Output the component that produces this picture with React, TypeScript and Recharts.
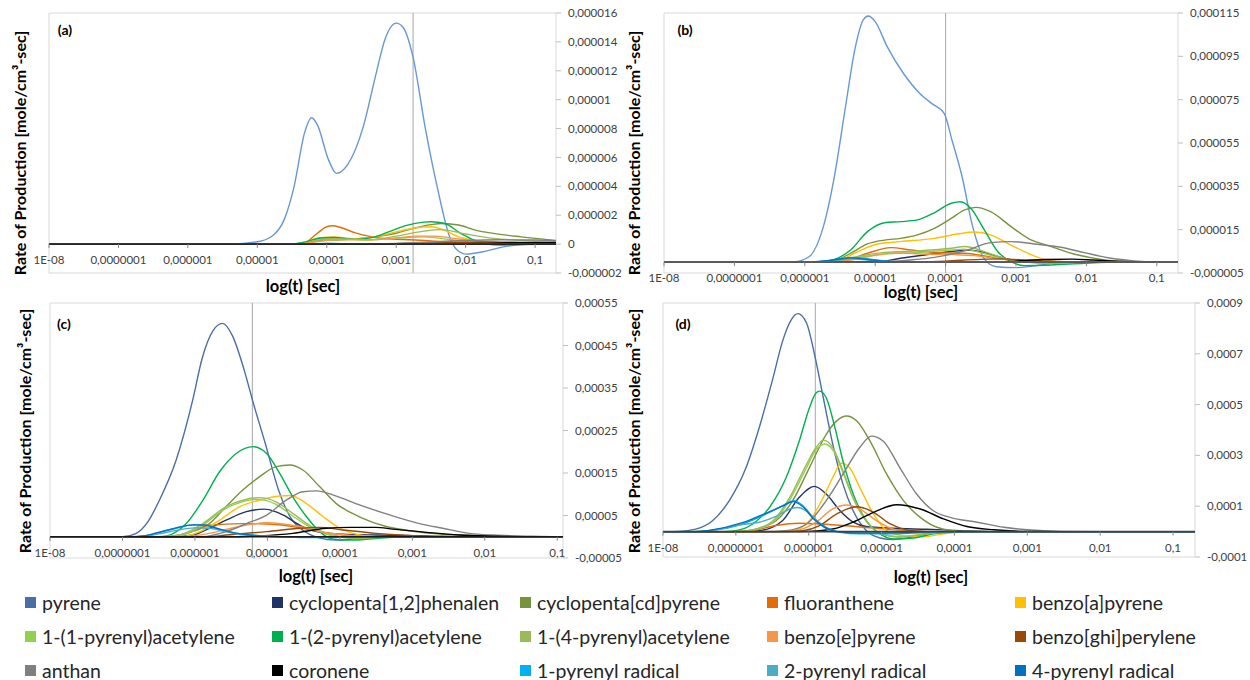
import React from 'react'
import { LineChart, Line, XAxis, YAxis, ReferenceLine, ReferenceArea } from 'recharts'

// x ticks (seconds), shared by all panels
const T_TICKS = [1e-8, 1e-7, 1e-6, 1e-5, 1e-4, 1e-3, 1e-2, 1e-1]

const NAMES = [
  'pyrene', 'cyclopenta[1,2]phenalen', 'cyclopenta[cd]pyrene', 'fluoranthene', 'benzo[a]pyrene',
  '1-(1-pyrenyl)acetylene', '1-(2-pyrenyl)acetylene', '1-(4-pyrenyl)acetylene', 'benzo[e]pyrene', 'benzo[ghi]perylene',
  'anthan', 'coronene', '1-pyrenyl radical', '2-pyrenyl radical', '4-pyrenyl radical',
]
const COLORS = [
  '#4a6ea8', '#1f3466', '#77933c', '#e36c09', '#ffc000',
  '#92d050', '#00b050', '#9bbb59', '#f79646', '#984807',
  '#808080', '#000000', '#00b0f0', '#4bacc6', '#0070c0',
]

// y ticks, in 1e-6 mole/cm3-sec
const Y_TICKS_A = [-2, 0, 2, 4, 6, 8, 10, 12, 14, 16]
const Y_TICKS_B = [-5, 15, 35, 55, 75, 95, 115]
const Y_TICKS_C = [-50, 50, 150, 250, 350, 450, 550]
const Y_TICKS_D = [-100, 100, 300, 500, 700, 900]

// points are [log10(t), rate in 1e-6 mole/cm3-sec]
// ---- panel (a)
const aPyrene = [[-8, 0], [-5.4, 0], [-5.0, 0.16], [-4.78, 0.58], [-4.61, 1.73], [-4.47, 4.0], [-4.32, 7.7], [-4.22, 8.75], [-4.13, 8.2], [-3.98, 5.9], [-3.86, 4.9], [-3.7, 5.5], [-3.47, 8.2], [-3.3, 11.6], [-3.16, 14.2], [-3.0, 15.3], [-2.9, 15.0], [-2.76, 13.0], [-2.58, 8.0], [-2.4, 3.75], [-2.23, 0.5], [-2.13, -0.37], [-1.99, -0.69], [-1.75, -0.53], [-1.46, -0.19], [-1.27, -0.07], [-1.0, 0], [-0.7, 0]]
const aCp12 = [[-8, 0], [-3.3, 0], [-2.6, 0.08], [-2.2, 0.1], [-1.7, 0.04], [-0.7, 0]]
const aCpcd = [[-8, 0], [-4.4, 0], [-4.1, 0.25], [-3.8, 0.3], [-3.4, 0.45], [-3.0, 0.75], [-2.75, 1.1], [-2.5, 1.35], [-2.35, 1.43], [-2.1, 1.32], [-1.85, 0.95], [-1.6, 0.74], [-1.2, 0.5], [-0.7, 0.25]]
const aFluor = [[-8, 0], [-4.5, 0], [-4.3, 0.15], [-4.15, 0.7], [-4.0, 1.2], [-3.92, 1.27], [-3.8, 1.15], [-3.6, 0.8], [-3.4, 0.55], [-3.2, 0.4], [-2.9, 0.32], [-2.6, 0.25], [-2.2, 0.15], [-1.5, 0.05], [-0.7, 0.02]]
const aBap = [[-8, 0], [-4.5, 0], [-4.3, 0.15], [-4.1, 0.45], [-3.9, 0.5], [-3.6, 0.38], [-3.3, 0.5], [-3.0, 0.85], [-2.75, 1.1], [-2.5, 1.2], [-2.3, 0.95], [-2.1, 0.5], [-1.88, 0.28], [-1.5, 0.1], [-1.0, 0.03], [-0.7, 0.02]]
const aP1ac = [[-8, 0], [-4.4, 0], [-4.1, 0.35], [-3.8, 0.35], [-3.4, 0.3], [-3.0, 0.4], [-2.6, 0.5], [-2.2, 0.3], [-1.8, 0.1], [-1.2, 0.03], [-0.7, 0]]
const aP2ac = [[-8, 0], [-4.5, 0], [-4.3, 0.15], [-4.1, 0.42], [-3.9, 0.46], [-3.6, 0.33], [-3.35, 0.45], [-3.1, 0.86], [-2.85, 1.3], [-2.6, 1.52], [-2.5, 1.55], [-2.3, 1.43], [-2.07, 0.74], [-1.88, 0.28], [-1.7, 0], [-1.5, -0.07], [-1.2, -0.03], [-0.7, 0]]
const aP4ac = [[-8, 0], [-4.4, 0], [-4.1, 0.3], [-3.8, 0.35], [-3.4, 0.3], [-3.0, 0.55], [-2.6, 0.9], [-2.35, 1.0], [-2.0, 0.7], [-1.6, 0.4], [-1.2, 0.25], [-0.7, 0.15]]
const aBep = [[-8, 0], [-4.4, 0], [-4.1, 0.2], [-3.8, 0.3], [-3.4, 0.3], [-3.0, 0.42], [-2.7, 0.55], [-2.45, 0.55], [-2.1, 0.35], [-1.7, 0.15], [-1.2, 0.05], [-0.7, 0.02]]
const aBghi = [[-8, 0], [-3, 0], [-2.3, 0.1], [-1.7, 0.15], [-1.2, 0.12], [-0.7, 0.08]]
const aAnthan = [[-8, 0], [-3.5, 0], [-3.0, 0.05], [-2.5, 0.15], [-2.0, 0.25], [-1.5, 0.3], [-1.0, 0.28], [-0.7, 0.22]]
const aCoronene = [[-8, 0], [-2.5, 0], [-1.8, 0.05], [-1.2, 0.1], [-0.7, 0.1]]
const aR1 = [[-8, 0], [-4.3, 0], [-3.9, 0.05], [-3.5, 0], [-0.7, 0]]
const aR2 = [[-8, 0], [-0.7, 0]]
const aR4 = [[-8, 0], [-4.3, 0], [-4.0, 0.04], [-3.6, 0], [-0.7, 0]]

// ---- panel (b)
const bPyrene = [[-8, 0], [-6.4, 0], [-6.15, 0.2], [-5.94, 2.5], [-5.75, 14.9], [-5.58, 39.5], [-5.43, 70], [-5.29, 98], [-5.17, 111.8], [-5.1, 113.6], [-5.0, 111], [-4.83, 99.5], [-4.6, 87.2], [-4.37, 78], [-4.2, 73.3], [-4.02, 68.7], [-3.91, 56.4], [-3.77, 40], [-3.62, 17], [-3.45, 1.5], [-3.28, -2.1], [-2.99, -2.5], [-2.76, -1.8], [-2.3, 0], [-0.7, 0]]
const bCp12 = [[-8, 0], [-5.0, 0], [-4.64, 1.8], [-4.3, 3.3], [-3.92, 4.9], [-3.69, 5.6], [-3.45, 4.4], [-3.17, 1.8], [-2.88, 0.2], [-0.7, 0]]
const bCpcd = [[-8, 0], [-5.8, 0], [-5.58, 0.7], [-5.35, 4.1], [-5.11, 8.4], [-4.87, 10.2], [-4.64, 11], [-4.4, 12.6], [-4.16, 15.6], [-3.92, 20.2], [-3.73, 24.1], [-3.57, 25.3], [-3.36, 23.3], [-3.07, 16.4], [-2.83, 11], [-2.5, 7.2], [-2.12, 3.3], [-1.79, 1.3], [-1.32, 0.2], [-0.7, 0]]
const bFluor = [[-8, 0], [-5.6, 0], [-5.35, 1.5], [-5.11, 4.1], [-4.78, 6.7], [-4.49, 5.6], [-4.11, 4.4], [-3.73, 4.1], [-3.45, 2.9], [-3.17, 1.3], [-2.74, 0.6], [-2.3, 0], [-0.7, 0]]
const bBap = [[-8, 0], [-5.7, 0], [-5.44, 1.8], [-5.2, 5.6], [-4.97, 8.4], [-4.64, 9.5], [-4.16, 11], [-3.83, 13], [-3.59, 13.9], [-3.36, 12.6], [-3.12, 8.7], [-2.83, 4.1], [-2.6, 1.3], [-2.27, 0.1], [-0.7, 0]]
const bP1ac = [[-8, 0], [-5.7, 0], [-5.35, 1.6], [-4.87, 3.8], [-4.4, 4.5], [-3.92, 5.6], [-3.75, 6.0], [-3.45, 4.0], [-3.17, 1.4], [-2.88, 0.1], [-2.5, -0.4], [-2.0, 0], [-0.7, 0]]
const bP2ac = [[-8, 0], [-6.0, 0], [-5.82, 0.2], [-5.58, 1.3], [-5.35, 5.6], [-5.11, 14.1], [-4.87, 18.2], [-4.64, 18.7], [-4.4, 19.5], [-4.16, 22.8], [-3.92, 27.2], [-3.79, 27.9], [-3.64, 24.8], [-3.45, 14.9], [-3.26, 4.9], [-3.07, 0.2], [-2.88, -1.6], [-2.5, -1.3], [-2.03, -0.5], [-1.55, 0], [-0.7, 0]]
const bP4ac = [[-8, 0], [-5.7, 0], [-5.35, 2.0], [-4.87, 4.5], [-4.4, 5.2], [-3.92, 6.4], [-3.73, 7.2], [-3.45, 4.9], [-3.17, 1.8], [-2.88, 0.2], [-2.5, -0.5], [-2.0, 0], [-0.7, 0]]
const bBep = [[-8, 0], [-5.6, 0], [-5.3, 1.2], [-5.0, 3.2], [-4.7, 4.3], [-4.3, 3.8], [-3.9, 3.5], [-3.6, 3.0], [-3.3, 1.8], [-2.9, 0.6], [-2.4, 0.1], [-0.7, 0]]
const bBghi = [[-8, 0], [-4.5, 0], [-4.0, 0.5], [-3.5, 1.3], [-3.2, 1.5], [-2.8, 0.8], [-2.3, 0.2], [-1.8, 0], [-0.7, 0]]
const bAnthan = [[-8, 0], [-5.0, 0], [-4.87, 0.2], [-4.5, 1.0], [-4.16, 2.2], [-3.69, 5.6], [-3.36, 9.0], [-3.07, 9.5], [-2.74, 8.4], [-2.36, 6.9], [-2.03, 4.4], [-1.65, 1.8], [-1.32, 0.6], [-0.9, 0], [-0.7, 0]]
const bCoronene = [[-8, 0], [-3.3, 0], [-3.0, 0.5], [-2.6, 1.2], [-2.2, 1.4], [-1.9, 1.0], [-1.5, 0.3], [-1.1, 0], [-0.7, 0]]
const bR1 = [[-8, 0], [-6.0, 0], [-5.6, 0.8], [-5.35, 2.2], [-5.1, 1.5], [-4.8, 0.3], [-4.4, 0], [-0.7, 0]]
const bR2 = [[-8, 0], [-6.0, 0], [-5.6, 0.6], [-5.35, 1.5], [-5.1, 1.0], [-4.8, 0.2], [-4.4, 0], [-0.7, 0]]
const bR4 = [[-8, 0], [-6.0, 0], [-5.6, 1.0], [-5.35, 2.0], [-5.1, 1.2], [-4.7, 0.2], [-4.3, 0], [-0.7, 0]]

// ---- panel (c)
const cPyrene = [[-8, 0], [-7.0, 0], [-6.81, 8], [-6.65, 35], [-6.49, 86], [-6.26, 180], [-6.03, 322], [-5.9, 420], [-5.75, 485], [-5.62, 502], [-5.48, 472], [-5.32, 392], [-5.2, 318], [-5.03, 220], [-4.85, 112], [-4.68, 45], [-4.5, 14], [-4.3, -2], [-4.05, -8], [-3.8, -5], [-3.5, 0], [-0.92, 0]]
const cCp12 = [[-8, 0], [-6.3, 0], [-6.03, 4], [-5.8, 20], [-5.57, 39], [-5.29, 59], [-5.04, 65], [-4.78, 51], [-4.55, 27], [-4.32, 12], [-3.96, 6], [-3.5, 4], [-2.81, 2], [-2.2, 0], [-0.92, 0]]
const cCpcd = [[-8, 0], [-6.4, 0], [-6.12, 8], [-5.8, 31], [-5.57, 71], [-5.34, 110], [-5.11, 141], [-4.88, 165], [-4.69, 169], [-4.51, 157], [-4.28, 118], [-4.05, 78], [-3.73, 47], [-3.36, 24], [-2.99, 13], [-2.58, 6], [-2.12, 3], [-1.66, 1], [-1.2, 0], [-0.92, 0]]
const cFluor = [[-8, 0], [-6.4, 0], [-6.12, 8], [-5.8, 27], [-5.34, 31], [-5.01, 30], [-4.65, 24], [-4.28, 12], [-3.96, 4], [-3.6, 0], [-0.92, 0]]
const cBap = [[-8, 0], [-6.2, 0], [-5.93, 12], [-5.66, 39], [-5.38, 71], [-5.11, 86], [-4.83, 96], [-4.69, 97], [-4.46, 78], [-4.23, 47], [-4.0, 20], [-3.73, 4], [-3.5, 0], [-0.92, 0]]
const cP1ac = [[-8, 0], [-6.5, 0], [-6.2, 3], [-5.9, 26], [-5.6, 64], [-5.35, 82], [-5.15, 88], [-4.9, 78], [-4.66, 50], [-4.42, 23], [-4.19, 6], [-3.96, -2], [-3.6, -3], [-3.2, 0], [-0.92, 0]]
const cP2ac = [[-8, 0], [-6.5, 0], [-6.35, 4], [-6.12, 31], [-5.89, 86], [-5.66, 153], [-5.43, 196], [-5.2, 212], [-5.01, 196], [-4.83, 149], [-4.65, 94], [-4.46, 47], [-4.28, 12], [-4.09, -6], [-3.86, -8], [-3.5, -4], [-3.04, 0], [-0.92, 0]]
const cP4ac = [[-8, 0], [-6.5, 0], [-6.21, 4], [-5.89, 31], [-5.57, 71], [-5.34, 86], [-5.11, 92], [-4.88, 82], [-4.65, 55], [-4.42, 27], [-4.19, 8], [-3.96, 0], [-3.7, -4], [-3.3, 0], [-0.92, 0]]
const cBep = [[-8, 0], [-6.2, 0], [-5.8, 8], [-5.5, 20], [-5.01, 33], [-4.55, 24], [-4.2, 10], [-3.73, 2], [-3.4, 0], [-0.92, 0]]
const cBghi = [[-8, 0], [-5.8, 0], [-5.57, 4], [-5.01, 12], [-4.55, 20], [-4.28, 22], [-3.96, 16], [-3.5, 8], [-3.04, 3], [-2.6, 0], [-0.92, 0]]
const cAnthan = [[-8, 0], [-5.9, 0], [-5.57, 12], [-5.29, 31], [-5.01, 51], [-4.74, 86], [-4.51, 106], [-4.32, 108], [-4.09, 98], [-3.73, 75], [-3.27, 49], [-2.9, 31], [-2.58, 20], [-2.21, 8], [-1.89, 4], [-1.43, 1.5], [-1.0, 0], [-0.92, 0]]
const cCoronene = [[-8, 0], [-5.4, 0], [-5.11, 2], [-4.65, 8], [-4.19, 20], [-3.86, 22], [-3.5, 22], [-3.27, 18], [-2.9, 12], [-2.35, 4], [-1.89, 1.5], [-1.4, 0], [-0.92, 0]]
const cR1 = [[-8, 0], [-6.9, 0], [-6.71, 1.6], [-6.49, 10], [-6.26, 20], [-6.03, 28], [-5.84, 27], [-5.66, 17], [-5.43, 8], [-5.2, 4], [-4.88, 1], [-4.5, -2], [-4.1, -2], [-3.8, 0], [-0.92, 0]]
const cR2 = [[-8, 0], [-6.9, 0], [-6.7, 1], [-6.49, 7], [-6.26, 15], [-6.0, 21], [-5.8, 20], [-5.6, 13], [-5.4, 6], [-5.1, 2], [-4.7, 0], [-0.92, 0]]
const cR4 = [[-8, 0], [-6.9, 0], [-6.71, 2], [-6.49, 11], [-6.26, 21], [-6.03, 28], [-5.88, 28], [-5.7, 20], [-5.45, 9], [-5.2, 3], [-4.8, 0], [-0.92, 0]]

// ---- panel (d)
const dPyrene = [[-8, 0], [-7.78, 1], [-7.55, 10], [-7.32, 43], [-7.09, 122], [-6.86, 252], [-6.68, 409], [-6.49, 605], [-6.36, 749], [-6.24, 834], [-6.15, 858], [-6.03, 821], [-5.92, 697], [-5.8, 527], [-5.67, 344], [-5.53, 187], [-5.39, 82], [-5.21, 4], [-5.02, -25], [-4.84, -31], [-4.61, -22], [-4.38, -9], [-4.15, -3], [-3.8, 0], [-0.7, 0]]
const dCp12 = [[-8, 0], [-7.0, 0], [-6.68, 4], [-6.36, 43], [-6.13, 135], [-5.92, 178], [-5.76, 148], [-5.57, 82], [-5.39, 37], [-5.21, 20], [-4.84, 13], [-4.38, 9], [-3.92, 4], [-3.4, 0], [-0.7, 0]]
const dCpcd = [[-8, 0], [-7.0, 0], [-6.77, 7], [-6.45, 43], [-6.22, 122], [-5.99, 252], [-5.76, 383], [-5.62, 435], [-5.48, 455], [-5.34, 435], [-5.16, 357], [-4.93, 226], [-4.7, 122], [-4.47, 56], [-4.24, 17], [-3.92, 1], [-3.5, 0], [-0.7, 0]]
const dFluor = [[-8, 0], [-7.0, 0], [-6.77, 4], [-6.45, 24], [-6.13, 33], [-5.85, 30], [-5.53, 24], [-5.07, 13], [-4.61, 4], [-4.2, 0], [-0.7, 0]]
const dBap = [[-8, 0], [-6.5, 0], [-6.22, 4], [-5.99, 43], [-5.8, 135], [-5.67, 213], [-5.55, 269], [-5.44, 252], [-5.3, 174], [-5.11, 69], [-4.93, 4], [-4.7, -16], [-4.43, -20], [-4.15, -9], [-3.8, 0], [-0.7, 0]]
const dP1ac = [[-8, 0], [-7.0, 0], [-6.77, 6], [-6.49, 38], [-6.26, 125], [-6.03, 252], [-5.9, 322], [-5.78, 345], [-5.66, 318], [-5.53, 232], [-5.39, 130], [-5.21, 40], [-5.02, -7], [-4.75, -20], [-4.38, -8], [-4.0, 0], [-0.7, 0]]
const dP2ac = [[-8, 0], [-7.2, 0], [-7.0, 4], [-6.77, 30], [-6.54, 95], [-6.31, 213], [-6.13, 357], [-5.99, 488], [-5.9, 546], [-5.85, 553], [-5.76, 527], [-5.64, 409], [-5.53, 278], [-5.39, 148], [-5.21, 43], [-5.02, -9], [-4.84, -29], [-4.56, -25], [-4.29, -9], [-3.92, -1], [-3.5, 0], [-0.7, 0]]
const dP4ac = [[-8, 0], [-7.0, 0], [-6.77, 7], [-6.49, 43], [-6.26, 135], [-6.03, 265], [-5.9, 331], [-5.8, 360], [-5.67, 331], [-5.53, 239], [-5.39, 135], [-5.21, 43], [-5.02, -9], [-4.75, -22], [-4.38, -9], [-4.0, 0], [-0.7, 0]]
const dBep = [[-8, 0], [-6.4, 0], [-6.13, 7], [-5.9, 37], [-5.67, 89], [-5.48, 105], [-5.3, 89], [-5.07, 43], [-4.84, 10], [-4.6, 0], [-0.7, 0]]
const dBghi = [[-8, 0], [-6.3, 0], [-6.08, 4], [-5.85, 24], [-5.62, 69], [-5.34, 98], [-5.11, 76], [-4.88, 30], [-4.66, 7], [-4.4, 0], [-0.7, 0]]
const dAnthan = [[-8, 0], [-6.6, 0], [-6.31, 4], [-6.03, 30], [-5.76, 122], [-5.53, 226], [-5.3, 331], [-5.14, 376], [-4.98, 357], [-4.75, 252], [-4.52, 148], [-4.29, 82], [-4.06, 56], [-3.69, 37], [-3.32, 17], [-3.0, 7], [-2.54, 1], [-2.0, 0], [-0.7, 0]]
const dCoronene = [[-8, 0], [-6.2, 0], [-5.99, 1], [-5.67, 10], [-5.39, 37], [-5.11, 76], [-4.79, 106], [-4.47, 89], [-4.15, 50], [-3.83, 20], [-3.46, 7], [-3.0, 1], [-2.5, 0], [-0.7, 0]]
const dR1 = [[-8, 0], [-7.6, 0], [-7.37, 4], [-6.91, 30], [-6.59, 69], [-6.36, 102], [-6.2, 122], [-6.08, 102], [-5.94, 56], [-5.76, 17], [-5.57, -3], [-5.3, -9], [-4.84, -9], [-4.38, -4], [-4.0, 0], [-0.7, 0]]
const dR2 = [[-8, 0], [-7.6, 0], [-7.37, 3], [-6.91, 28], [-6.68, 37], [-6.45, 60], [-6.25, 90], [-6.15, 95], [-6.03, 80], [-5.9, 45], [-5.76, 12], [-5.57, -2], [-5.2, -5], [-4.6, -3], [-4.2, 0], [-0.7, 0]]
const dR4 = [[-8, 0], [-7.6, 0], [-7.37, 5], [-6.91, 35], [-6.59, 72], [-6.36, 100], [-6.22, 118], [-6.08, 98], [-5.94, 52], [-5.76, 14], [-5.57, -2], [-5.3, -6], [-4.8, -5], [-4.3, 0], [-0.7, 0]]

const FONT = 'Lato, "Open Sans", sans-serif'
const Y_AXIS_W = 50
const X_AXIS_H = 20

const PANELS = [
  {
    id: '(a)', left: 0, top: 0, width: 640, height: 300,
    plot: { left: 49, right: 556, top: 13, bottom: 273 },
    xMax: 0.2, marker: 0.00175, yTicks: Y_TICKS_A, pyreneColor: '#6797d8', zeroColor: '#262626',
    series: [aPyrene, aCp12, aCpcd, aFluor, aBap, aP1ac, aP2ac, aP4ac, aBep, aBghi, aAnthan, aCoronene, aR1, aR2, aR4],
    tag: [65, 29], xTitle: [303, 286], yTitle: [19, 153],
  },
  {
    id: '(b)', left: 620, top: 0, width: 630, height: 300,
    plot: { left: 44, right: 558, top: 13, bottom: 273 },
    xMax: 0.2, marker: 0.0001, yTicks: Y_TICKS_B, pyreneColor: '#6797d8', zeroColor: '#595959',
    series: [bPyrene, bCp12, bCpcd, bFluor, bBap, bP1ac, bP2ac, bP4ac, bBep, bBghi, bAnthan, bCoronene, bR1, bR2, bR4],
    tag: [685, 29], xTitle: [921, 292], yTitle: [633, 153],
  },
  {
    id: '(c)', left: 0, top: 290, width: 640, height: 300,
    plot: { left: 50, right: 563, top: 13, bottom: 268 },
    xMax: 0.12, marker: 0.0000062, yTicks: Y_TICKS_C, pyreneColor: '#4a6ea8', zeroColor: '#1a1a1a',
    series: [cPyrene, cCp12, cCpcd, cFluor, cBap, cP1ac, cP2ac, cP4ac, cBep, cBghi, cAnthan, cCoronene, cR1, cR2, cR4],
    tag: [64, 323], xTitle: [316, 576], yTitle: [24, 431],
  },
  {
    id: '(d)', left: 620, top: 290, width: 630, height: 300,
    plot: { left: 43, right: 575, top: 13, bottom: 267 },
    xMax: 0.2, marker: 0.00000123, yTicks: Y_TICKS_D, pyreneColor: '#4a6ea8', zeroColor: '#404040',
    series: [dPyrene, dCp12, dCpcd, dFluor, dBap, dP1ac, dP2ac, dP4ac, dBep, dBghi, dAnthan, dCoronene, dR1, dR2, dR4],
    tag: [683, 323], xTitle: [931, 577], yTitle: [633, 431],
  },
]

const LEGEND_COL_X = [25, 272, 520, 767, 1015]
const LEGEND_ROW_Y = [602, 636, 670]

const toRows = (pts: number[][]) => pts.map(([lg, v]) => ({ t: Math.pow(10, lg), v }))

const fmtNum = (v: number) => {
  if (Math.abs(v) < 1e-12) return '0'
  const s = v.toFixed(10).replace(/0+$/, '').replace(/\.$/, '')
  return s.replace('.', ',')
}
const fmtT = (t: number) => (t < 1.5e-8 ? '1E-08' : fmtNum(t))

const XTick = ({ x, payload, zeroY }: any) => (
  <g>
    <line x1={x} x2={x} y1={zeroY} y2={zeroY + 4} stroke="#868686" />
    <text x={x} y={zeroY + 16} dy="0.355em" textAnchor="middle" fontSize={11.5} fill="#404040">
      {fmtT(payload.value)}
    </text>
  </g>
)

function Panel({ p }: { p: any }) {
  const yMin = p.yTicks[0]
  const yMax = p.yTicks[p.yTicks.length - 1]
  const plotH = p.plot.bottom - p.plot.top
  const zeroY = p.plot.top + (plotH * yMax) / (yMax - yMin)
  const margin = {
    left: p.plot.left,
    top: p.plot.top,
    right: p.width - p.plot.right - Y_AXIS_W,
    bottom: p.height - p.plot.bottom - X_AXIS_H,
  }
  return (
    <div style={{ position: 'absolute', left: p.left, top: p.top }}>
      <LineChart width={p.width} height={p.height} margin={margin}>
        <XAxis
          dataKey="t"
          type="number"
          scale="log"
          domain={[1e-8, p.xMax]}
          ticks={T_TICKS}
          interval={0}
          allowDataOverflow
          axisLine={false}
          tickLine={false}
          height={X_AXIS_H}
          tick={(props: any) => <XTick {...props} zeroY={zeroY} />}
        />
        <YAxis
          orientation="right"
          type="number"
          domain={[yMin, yMax]}
          ticks={p.yTicks}
          interval={0}
          width={Y_AXIS_W}
          allowDataOverflow
          axisLine={false}
          tickSize={5}
          tickMargin={7}
          tickLine={{ stroke: '#bfbfbf' }}
          tick={{ fontSize: 11.5, fill: '#404040' }}
          tickFormatter={(v: number) => fmtNum(v * 1e-6)}
        />
        <ReferenceArea x1={1e-8} x2={p.xMax} y1={yMin} y2={yMax} fill="none" stroke="#d9d9d9" ifOverflow="visible" />
        <ReferenceLine x={p.marker} stroke="#a6a6a6" />
        {p.series.map((pts: number[][], i: number) => (
          <Line
            key={NAMES[i]}
            data={toRows(pts)}
            dataKey="v"
            type="monotone"
            stroke={i === 0 ? p.pyreneColor : COLORS[i]}
            strokeWidth={1.4}
            dot={false}
            activeDot={false}
            isAnimationActive={false}
          />
        ))}
        <ReferenceLine y={0} stroke={p.zeroColor} strokeWidth={1.6} />
      </LineChart>
    </div>
  )
}

const centered = (x: number, y: number, extra: any = {}) => ({
  position: 'absolute' as const,
  left: x,
  top: y,
  transform: 'translate(-50%, -50%)',
  whiteSpace: 'nowrap' as const,
  ...extra,
})

export default function App() {
  return (
    <div style={{ position: 'absolute', left: 0, top: 0, width: 1250, height: 680, background: '#fff', fontFamily: FONT }}>
      {PANELS.map((p) => (
        <Panel key={p.id} p={p} />
      ))}
      {PANELS.map((p) => (
        <React.Fragment key={p.id + 't'}>
          <div style={centered(p.tag[0], p.tag[1], { fontSize: 14, fontWeight: 700, color: '#000' })}>{p.id}</div>
          <div style={centered(p.xTitle[0], p.xTitle[1], { fontSize: 16.5, fontWeight: 700, color: '#000' })}>log(t) [sec]</div>
          <div
            style={centered(p.yTitle[0], p.yTitle[1], {
              fontSize: 16,
              fontWeight: 700,
              color: '#000',
              transform: 'translate(-50%, -50%) rotate(-90deg)',
            })}
          >
            Rate of Production  [mole/cm³-sec]
          </div>
        </React.Fragment>
      ))}
      {NAMES.map((name, i) => {
        const col = i % 5
        const row = Math.floor(i / 5)
        return (
          <div
            key={name}
            style={{
              position: 'absolute',
              left: LEGEND_COL_X[col],
              top: LEGEND_ROW_Y[row] - 13,
              height: 26,
              display: 'flex',
              alignItems: 'center',
              whiteSpace: 'nowrap',
            }}
          >
            <span style={{ display: 'inline-block', width: 11, height: 11, background: COLORS[i], marginRight: 6 }} />
            <span style={{ fontSize: 19.5, color: '#262626' }}>{name}</span>
          </div>
        )
      })}
    </div>
  )
}
